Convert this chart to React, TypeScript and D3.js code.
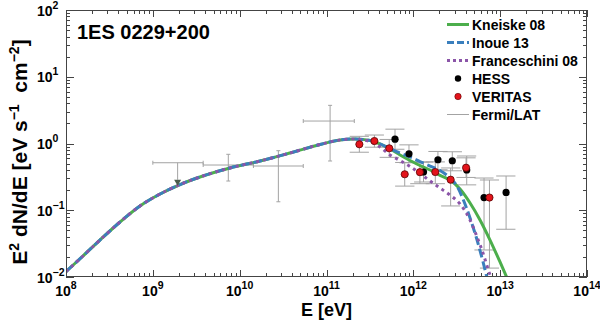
import React from "react";
import * as d3 from "d3";

// ---------- data ----------
const xTickLabels = ["8", "9", "10", "11", "12", "13", "14"];
const yTickLabels = ["−2", "−1", "0", "1", "2"];

// common (intrinsic) part of the models
const commonE = [1e8, 1.57e8, 2.46e8, 4.19e8, 7.11e8, 1.21e9, 2.06e9, 3.49e9, 7.74e9, 1.72e10, 3.8e10, 8.42e10, 1.43e11, 2.13e11, 3.17e11];
const commonF = [0.01208, 0.02065, 0.0358, 0.0667, 0.1159, 0.175, 0.243, 0.315, 0.43, 0.547, 0.721, 0.966, 1.128, 1.167, 1.109];

const kneiskeE = [4.13e11, 5.38e11, 7.03e11, 9.16e11, 1.19e12, 1.56e12, 2.03e12, 2.64e12, 3.45e12, 4.5e12, 5.86e12, 7.64e12, 9.96e12, 1.2e13];
const kneiskeF = [0.984, 0.828, 0.673, 0.556, 0.468, 0.401, 0.332, 0.284, 0.208, 0.1285, 0.0715, 0.0358, 0.0168, 0.00966];

const inoueE = [4.13e11, 5.38e11, 7.03e11, 9.16e11, 1.19e12, 1.56e12, 2.03e12, 2.64e12, 3.18e12, 3.73e12, 4.5e12, 5.42e12, 6.35e12, 7.06e12];
const inoueF = [0.984, 0.841, 0.721, 0.628, 0.537, 0.46, 0.394, 0.304, 0.231, 0.1475, 0.0766, 0.0358, 0.0168, 0.00966];

const franceschiniE = [3.17e11, 4.13e11, 5.38e11, 7.03e11, 9.16e11, 1.19e12, 1.56e12, 2.03e12, 2.64e12, 3.45e12, 4.5e12, 5.42e12, 6.34e12, 7.24e12, 7.85e12];
const franceschiniF = [1.071, 0.887, 0.673, 0.556, 0.452, 0.356, 0.274, 0.215, 0.169, 0.124, 0.0715, 0.0397, 0.0229, 0.0132, 0.00966];

// HESS
const hessE = [6.15e11, 8.91e11, 1.31e12, 1.92e12, 2.81e12, 4.12e12, 6.52e12, 1.17e13];
const hessEmin = [4.77e11, 6.9e11, 1.02e12, 1.49e12, 2.18e12, 3.19e12, 5.05e12, 9.0e12];
const hessEmax = [7.9e11, 1.15e12, 1.69e12, 2.48e12, 3.63e12, 5.3e12, 8.4e12, 1.5e13];
const hessF = [1.16, 0.7, 0.374, 0.571, 0.552, 0.401, 0.155, 0.185];
const hessFlo = [0.82, 0.514, 0.265, 0.404, 0.39, 0.24, 0.0254, 0.0519];
const hessFhi = [1.64, 0.954, 0.528, 0.76, 0.752, 0.65, 0.304, 0.326];

// VERITAS
const veritasE = [2.39e11, 3.56e11, 5.28e11, 7.96e11, 1.19e12, 1.79e12, 2.69e12, 4.05e12, 7.53e12];
const veritasEmin = [1.85e11, 2.76e11, 4.09e11, 6.17e11, 9.2e11, 1.39e12, 2.09e12, 3.14e12, 5.84e12];
const veritasEmax = [3.08e11, 4.59e11, 6.81e11, 1.03e12, 1.54e12, 2.31e12, 3.47e12, 5.22e12, 9.71e12];
const veritasF = [0.973, 1.09, 0.847, 0.346, 0.372, 0.374, 0.287, 0.434, 0.155];
const veritasFlo = [0.74, 0.88, 0.62, 0.23, 0.25, 0.25, 0.116, 0.31, 0.0136];
const veritasFhi = [1.28, 1.34, 1.15, 0.52, 0.526, 0.53, 0.43, 0.61, 0.284];

// Fermi/LAT
const fermiE = [7.4e9, 2.79e10, 1.1e11];
const fermiEmin = [3.8e9, 1.44e10, 5.4e10];
const fermiEmax = [1.44e10, 5.4e10, 2.09e11];
const fermiF = [0.476, 0.46, 2.17];
const fermiFlo = [0.274, 0.134, 0.547];
const fermiFhi = [0.689, 0.78, 3.73];
const fermiUlE = [1.93e9];
const fermiUlEmin = [1e9];
const fermiUlEmax = [3.8e9];
const fermiUlF = [0.515];

const legendLabels = ["Kneiske 08", "Inoue 13", "Franceschini 08", "HESS", "VERITAS", "Fermi/LAT"];

// ---------- layout ----------
const W = 600, H = 320;
const L = 66, R = 587, T = 10, B = 277;
const FONT = "'Liberation Sans', Arial, Helvetica, sans-serif";
const GREEN = "#4cae4c";
const BLUE = "#3a7fbd";
const PURPLE = "#8b55a8";
const GRAY = "#a3a3a3";

const x = d3.scaleLog().domain([1e8, 1e14]).range([L, R]);
const y = d3.scaleLog().domain([1e-2, 1e2]).range([B, T]);

const isMajor = (t: number) => Math.abs(Math.log10(t) - Math.round(Math.log10(t))) < 1e-9;

function mkLine(E: number[], F: number[]) {
  const pts = E.map((e, i) => [e, F[i]] as [number, number]);
  return d3
    .line<[number, number]>()
    .x((d) => x(d[0]))
    .y((d) => y(d[1]))
    .curve(d3.curveMonotoneX)(pts) as string;
}

export default function App() {
  const xt = x.ticks();
  const yt = y.ticks();

  const kneiske = mkLine([...commonE, ...kneiskeE], [...commonF, ...kneiskeF]);
  const inoue = mkLine([...commonE, ...inoueE], [...commonF, ...inoueF]);
  const fran = mkLine([...commonE.slice(0, -1), ...franceschiniE], [...commonF.slice(0, -1), ...franceschiniF]);

  const cap = 2;

  return (
    <svg
      width={W}
      height={H}
      style={{ position: "absolute", left: 0, top: 0, background: "#fff" }}
      fontFamily={FONT}
    >
      <defs>
        <clipPath id="plot">
          <rect x={L} y={T} width={R - L} height={B - T} />
        </clipPath>
      </defs>
      <rect x={0} y={0} width={W} height={H} fill="#fff" />

      {/* ticks */}
      <g stroke="#444" strokeWidth={1}>
        {xt.map((t, i) => {
          const len = isMajor(t) ? 7 : 4;
          const px = Math.round(x(t)) + 0.5;
          return (
            <g key={"xt" + i}>
              <line x1={px} x2={px} y1={B} y2={B - len} />
              <line x1={px} x2={px} y1={T} y2={T + len} />
            </g>
          );
        })}
        {yt.map((t, i) => {
          const len = isMajor(t) ? 8 : 4;
          const py = Math.round(y(t)) + 0.5;
          return (
            <g key={"yt" + i}>
              <line x1={L} x2={L + len} y1={py} y2={py} />
              <line x1={R} x2={R - len} y1={py} y2={py} />
            </g>
          );
        })}
      </g>

      {/* tick labels */}
      <g fontWeight="bold" fill="#000">
        {xt.filter(isMajor).map((t, i) => (
          <text key={"xl" + i} x={x(t)} y={295.5} textAnchor="middle" fontSize={14}>
            10
            <tspan dy={-7} fontSize={10.5}>{xTickLabels[i]}</tspan>
          </text>
        ))}
        {yt.filter(isMajor).map((t, i) => (
          <text key={"yl" + i} x={37} y={y(t) + 5.5} textAnchor="start" fontSize={14}>
            10
            <tspan dy={-7} fontSize={10.5}>{yTickLabels[i]}</tspan>
          </text>
        ))}
      </g>

      {/* axis titles */}
      <text x={(L + R) / 2} y={315.5} textAnchor="middle" fontSize={18} fontWeight="bold">
        E [eV]
      </text>
      <text
        transform={`translate(27,152) rotate(-90)`}
        textAnchor="middle"
        fontSize={21}
        fontWeight="bold"
        style={{ whiteSpace: "pre" }}
      >
        E<tspan dy={-8} fontSize={14}>2</tspan>
        <tspan dy={8}> dN/dE [eV s</tspan>
        <tspan dy={-8} fontSize={14}>−1</tspan>
        <tspan dy={8}>  cm</tspan>
        <tspan dy={-8} fontSize={14}>−2</tspan>
        <tspan dy={8}>]</tspan>
      </text>

      {/* plot title */}
      <text x={77} y={39} fontSize={20} fontWeight="bold">1ES 0229+200</text>

      <g clipPath="url(#plot)">
        {/* Fermi error bars */}
        <g stroke={GRAY} strokeWidth={1} fill="none">
          {fermiE.map((e, i) => (
            <g key={"fe" + i}>
              <line x1={x(fermiEmin[i])} x2={x(fermiEmax[i])} y1={y(fermiF[i])} y2={y(fermiF[i])} />
              <line x1={x(fermiEmin[i])} x2={x(fermiEmin[i])} y1={y(fermiF[i]) - cap} y2={y(fermiF[i]) + cap} />
              <line x1={x(fermiEmax[i])} x2={x(fermiEmax[i])} y1={y(fermiF[i]) - cap} y2={y(fermiF[i]) + cap} />
              <line x1={x(e)} x2={x(e)} y1={y(fermiFlo[i])} y2={y(fermiFhi[i])} />
              <line x1={x(e) - cap} x2={x(e) + cap} y1={y(fermiFlo[i])} y2={y(fermiFlo[i])} />
              <line x1={x(e) - cap} x2={x(e) + cap} y1={y(fermiFhi[i])} y2={y(fermiFhi[i])} />
            </g>
          ))}
          {fermiUlE.map((e, i) => (
            <g key={"ul" + i}>
              <line x1={x(fermiUlEmin[i])} x2={x(fermiUlEmax[i])} y1={y(fermiUlF[i])} y2={y(fermiUlF[i])} />
              <line x1={x(fermiUlEmin[i])} x2={x(fermiUlEmin[i])} y1={y(fermiUlF[i]) - cap} y2={y(fermiUlF[i]) + cap} />
              <line x1={x(fermiUlEmax[i])} x2={x(fermiUlEmax[i])} y1={y(fermiUlF[i]) - cap} y2={y(fermiUlF[i]) + cap} />
              <line x1={x(e)} x2={x(e)} y1={y(fermiUlF[i])} y2={y(fermiUlF[i]) + 17} />
            </g>
          ))}
        </g>

        {/* HESS / VERITAS error bars */}
        <g stroke={GRAY} strokeWidth={1} fill="none">
          {hessE.map((e, i) => (
            <g key={"he" + i}>
              <line x1={x(e)} x2={x(e)} y1={y(hessFlo[i])} y2={y(hessFhi[i])} />
              <line x1={x(hessEmin[i])} x2={x(hessEmax[i])} y1={y(hessFlo[i])} y2={y(hessFlo[i])} />
              <line x1={x(hessEmin[i])} x2={x(hessEmax[i])} y1={y(hessFhi[i])} y2={y(hessFhi[i])} />
            </g>
          ))}
          {veritasE.map((e, i) => (
            <g key={"ve" + i}>
              <line x1={x(e)} x2={x(e)} y1={y(veritasFlo[i])} y2={y(veritasFhi[i])} />
              <line x1={x(veritasEmin[i])} x2={x(veritasEmax[i])} y1={y(veritasFlo[i])} y2={y(veritasFlo[i])} />
              <line x1={x(veritasEmin[i])} x2={x(veritasEmax[i])} y1={y(veritasFhi[i])} y2={y(veritasFhi[i])} />
            </g>
          ))}
        </g>

        {/* models */}
        <path d={kneiske} fill="none" stroke={GREEN} strokeWidth={3} />
        <path d={inoue} fill="none" stroke={BLUE} strokeWidth={3} strokeDasharray="9,4" />
        <path d={fran} fill="none" stroke={PURPLE} strokeWidth={3} strokeDasharray="3,4" />

        {/* UL arrow head */}
        {fermiUlE.map((e, i) => {
          const cx = x(e);
          const ty = y(fermiUlF[i]) + 17;
          return <path key={"ah" + i} d={`M${cx - 3.5},${ty} L${cx + 3.5},${ty} L${cx},${ty + 6} Z`} fill="#4b5b4b" />;
        })}

        {/* markers */}
        {hessE.map((e, i) => (
          <circle key={"hm" + i} cx={x(e)} cy={y(hessF[i])} r={3.6} fill="#000" />
        ))}
        {veritasE.map((e, i) => (
          <circle key={"vm" + i} cx={x(e)} cy={y(veritasF[i])} r={3.6} fill="#e3141b" stroke="#5a0000" strokeWidth={0.8} />
        ))}
      </g>

      {/* frame */}
      <rect x={L + 0.5} y={T + 0.5} width={R - L - 1} height={B - T - 1} fill="none" stroke="#444" strokeWidth={1} />

      {/* legend */}
      <g fontSize={14} fontWeight="bold">
        {legendLabels.map((lab, i) => {
          const by = 30 + i * 18;
          const sy = by - 5.5;
          let sym: React.ReactNode = null;
          if (i === 0) sym = <line x1={447} x2={469} y1={sy} y2={sy} stroke={GREEN} strokeWidth={3} />;
          if (i === 1) sym = <line x1={447} x2={469} y1={sy} y2={sy} stroke={BLUE} strokeWidth={3} strokeDasharray="7,3" />;
          if (i === 2) sym = <line x1={447} x2={469} y1={sy} y2={sy} stroke={PURPLE} strokeWidth={3} strokeDasharray="3,3" />;
          if (i === 3) sym = <circle cx={458} cy={sy} r={3.2} fill="#000" />;
          if (i === 4) sym = <circle cx={458} cy={sy} r={3.2} fill="#e3141b" stroke="#5a0000" strokeWidth={0.6} />;
          if (i === 5) sym = <line x1={447} x2={469} y1={sy} y2={sy} stroke={GRAY} strokeWidth={1} />;
          return (
            <g key={"lg" + i}>
              {sym}
              <text x={472} y={by}>{lab}</text>
            </g>
          );
        })}
      </g>
    </svg>
  );
}
